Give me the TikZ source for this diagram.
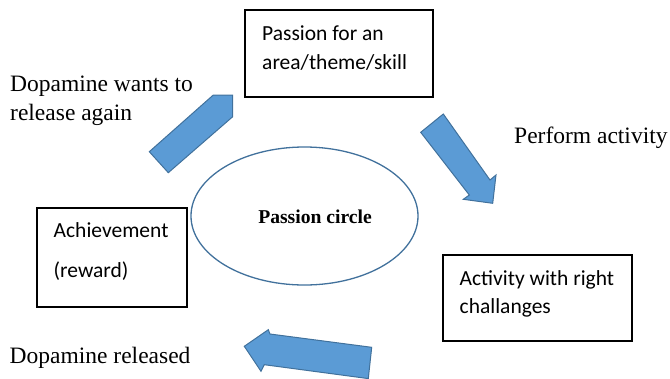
\documentclass[tikz,border=0pt]{standalone}
\usepackage{fontspec}
\setmainfont{Liberation Serif}
\newfontfamily\calibrifont{Carlito}
\definecolor{arrowfill}{HTML}{5B9BD5}
\definecolor{arrowline}{HTML}{41719C}
\begin{document}
\begin{tikzpicture}[x=1pt,y=-1pt,
  box/.style={draw=black,line width=1.1pt,fill=white},
  blockarrow/.style={fill=arrowfill,draw=arrowline,line width=1pt,line join=miter},
  lbl/.style={anchor=base west,inner sep=0pt,font=\fontsize{23.5}{28}\selectfont},
  boxtxt/.style={anchor=base west,inner sep=0pt,font=\calibrifont\fontsize{21.5}{28}\selectfont}]
\useasboundingbox (0,0) rectangle (670,378);
% boxes
\draw[box] (245,10) rectangle (433,97);
\coordinate (b1) at (245,10);
\draw[box] (37,208) rectangle (187,307);
\draw[box] (443,255) rectangle (632,341);
% ellipse
\draw[draw=arrowline,line width=1.3pt,fill=white] (304.5,216) ellipse [x radius=113.5,y radius=69];
\node[anchor=base,inner sep=0pt,font=\bfseries\fontsize{19.6}{24}\selectfont] (pc) at (315,223) {Passion circle};
% box texts
\node[boxtxt] (t1a) at (262,40.5) {Passion for an};
\node[boxtxt] (t1b) at (262,69) {area/theme/skill};
\node[boxtxt] (t2a) at (53.5,237.5) {Achievement};
\node[boxtxt] (t2b) at (53.5,277) {(reward)};
\node[boxtxt] (t3a) at (459.5,285) {Activity with right};
\node[boxtxt] (t3b) at (459.5,313.3) {challanges};
% labels
\node[lbl] (l1a) at (10,91.7) {Dopamine wants to};
\node[lbl] (l1b) at (10,120) {release again};
\node[lbl] (l2) at (514,143.3) {Perform activity};
\node[lbl] (l3) at (9.5,363.3) {Dopamine released};
% block arrows
\draw[blockarrow] (149.3,151.7) -- (213.3,95) -- (232.7,95) -- (232.7,116.7) -- (168.3,172.7) -- cycle;
\draw[blockarrow] (420.7,132.3) -- (443.3,114) -- (490,180) -- (496,175) -- (492.7,203.3) -- (463.3,199.3) -- (469.3,195) -- cycle;
\draw[blockarrow] (244.3,346.3) -- (268.3,329.7) -- (270,334) -- (371.7,347.3) -- (368.3,378.6) -- (264.3,364.7) -- (261,371.3) -- cycle;
\end{tikzpicture}
\end{document}
